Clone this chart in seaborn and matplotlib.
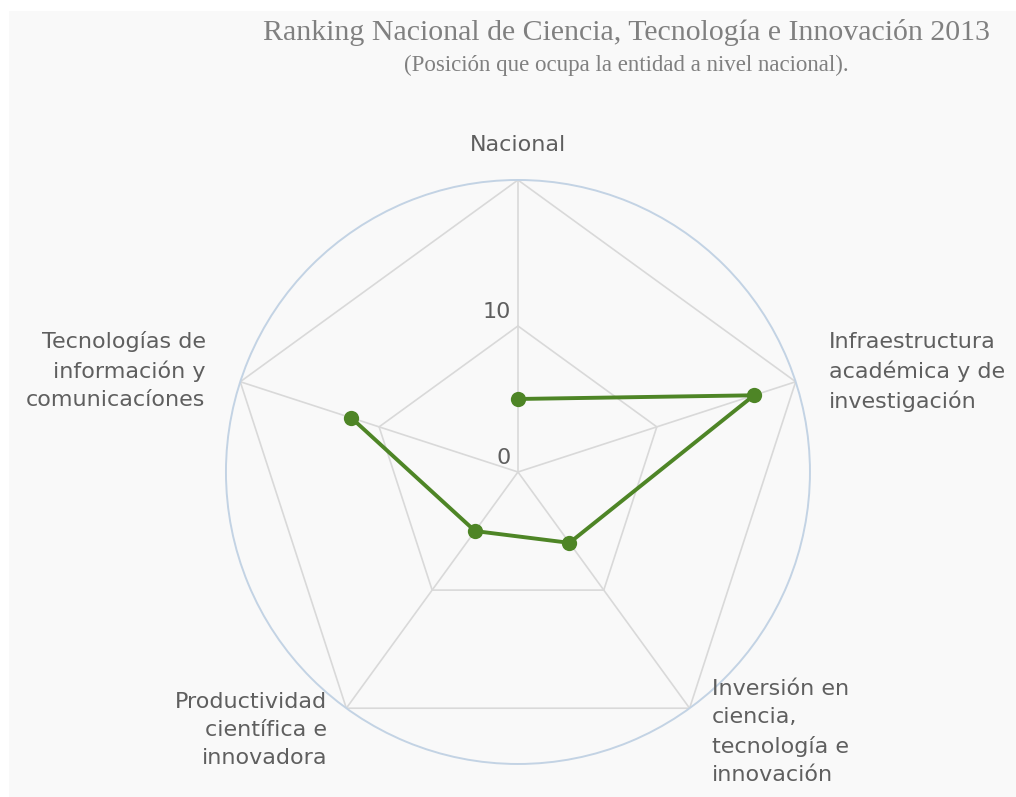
import numpy as np
import matplotlib.pyplot as plt
import seaborn as sns
from matplotlib.patches import Rectangle

# data
categories = [
    "Nacional",
    "Infraestructura\nacadémica y de\ninvestigación",
    "Inversión en\nciencia,\ntecnología e\ninnovación",
    "Productividad\ncientífica e\ninnovadora",
    "Tecnologías de\ninformación y\ncomunicacíones",
]
positions = [5, 17, 6, 5, 12]
grid_levels = [0, 10, 20]

title = "Ranking Nacional de Ciencia, Tecnología e Innovación 2013"
subtitle = "(Posición que ocupa la entidad a nivel nacional)."

GREEN = "#4e8526"
GRID = "#d9d9d9"
TEXT = "#5f5f5f"

sns.set_style("white")
plt.rcParams["font.family"] = ["DejaVu Sans"]

fig = plt.figure(figsize=(10.16, 7.97), dpi=100)
fig.patch.set_facecolor("white")
fig.patches.append(Rectangle((9 / 1016, 0), 1 - 9 / 1016, 1 - 11 / 797,
                             transform=fig.transFigure, facecolor="#f9f9f9",
                             edgecolor="none", zorder=-10))

ax = fig.add_axes([0.2224, 0.0414, 0.5748, 0.7328], projection="polar")
ax.set_facecolor("none")
ax.set_theta_offset(np.pi / 2)
ax.set_theta_direction(-1)

n = len(categories)
angles = np.linspace(0, 2 * np.pi, n, endpoint=False)
ax.set_ylim(0, grid_levels[-1])
ax.grid(False)
ax.set_xticks([])
ax.set_yticks([])
ax.spines["polar"].set_color("#c3d3e4")
ax.spines["polar"].set_linewidth(1.4)

# pentagon grid + spokes
closed = np.append(angles, angles[0])
for lvl in grid_levels[1:]:
    ax.plot(closed, [lvl] * (n + 1), color=GRID, lw=1.2, zorder=1)
for a in angles:
    ax.plot([a, a], [0, grid_levels[-1]], color=GRID, lw=1.2, zorder=1)

# radial labels
for lvl in grid_levels[:2]:
    ax.annotate(str(lvl), xy=(0, lvl), xytext=(-5, 3), textcoords="offset points",
                ha="right", va="bottom", fontsize=16, color=TEXT)

# series
df_vals = np.append(positions, positions[0])
sns.lineplot(x=closed, y=df_vals, ax=ax, color=GREEN, lw=2.8, sort=False,
             marker="o", markersize=11, markeredgewidth=0, zorder=5)

# category labels
offsets = [(0, 18, "center", "bottom"), (24, 7, "left", "center"),
           (16, 21, "left", "top"), (-14, 12, "right", "top"),
           (-25, 8, "right", "center")]
for a, lab, (dx, dy, ha, va) in zip(angles, categories, offsets):
    ax.annotate(lab, xy=(a, grid_levels[-1]), xytext=(dx, dy), textcoords="offset points",
                ha=ha, va=va, multialignment=ha, fontsize=16, color=TEXT,
                linespacing=1.5, annotation_clip=False)

fig.text(626 / 1016, 1 - 33 / 797, title, ha="center", va="center",
         fontsize=21.5, color="#808080", family="Liberation Serif")
fig.text(626 / 1016, 1 - 65 / 797, subtitle, ha="center", va="center",
         fontsize=16.5, color="#808080", family="Liberation Serif")

fig.savefig("out.png", dpi=100)
